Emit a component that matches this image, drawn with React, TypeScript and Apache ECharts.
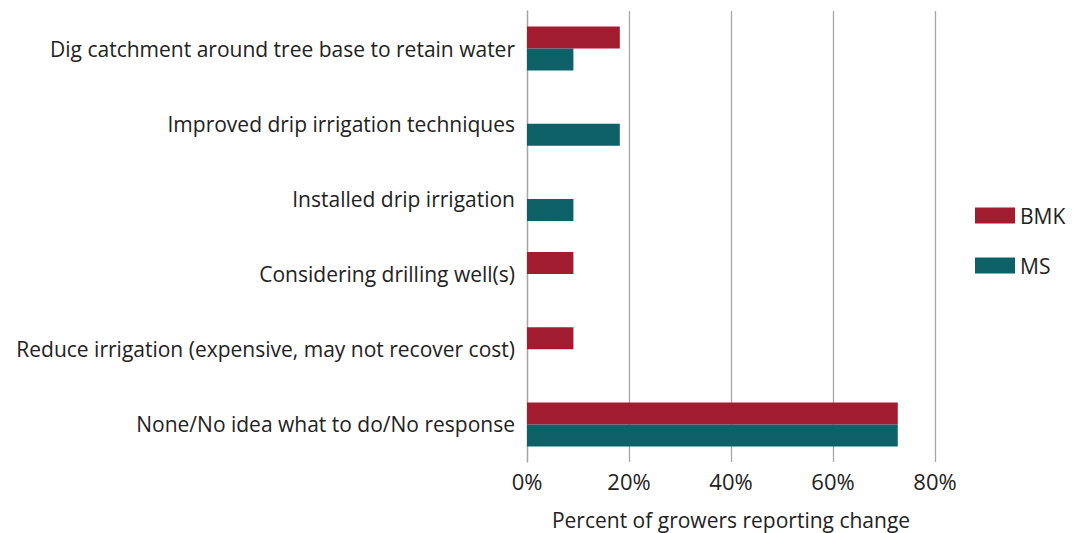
import React, { useEffect, useRef } from "react";
import * as echarts from "echarts";

const categories = [
  "Dig catchment around tree base to retain water",
  "Improved drip irrigation techniques",
  "Installed drip irrigation",
  "Considering drilling well(s)",
  "Reduce irrigation (expensive, may not recover cost)",
  "None/No idea what to do/No response",
];
const bmk = [18.2, 0, 0, 9.1, 9.1, 72.7];
const ms = [9.1, 18.2, 9.1, 0, 0, 72.7];
const xTicks = [0, 20, 40, 60, 80];

const FONT = "'Open Sans', Lato, sans-serif";

export default function App() {
  const ref = useRef<HTMLDivElement>(null);
  useEffect(() => {
    const chart = echarts.init(ref.current!, null, { renderer: "svg" });
    chart.setOption({
      animation: false,
      textStyle: { fontFamily: FONT },
      legend: {
        orient: "vertical",
        left: 970,
        top: 200,
        itemWidth: 40,
        itemHeight: 16,
        itemGap: 29,
        itemTextGap: 5,
        icon: "rect",
        textStyle: { fontSize: 21, color: "#222", fontFamily: FONT },
        data: ["BMK", "MS"],
      },
      grid: { left: 527, top: 11, width: 408, height: 451, outerBoundsMode: "none", containLabel: false },
      xAxis: {
        type: "value",
        min: xTicks[0],
        max: xTicks[xTicks.length - 1],
        interval: 20,
        axisLine: { show: false },
        axisTick: { show: false },
        splitLine: { show: true, lineStyle: { color: "#a6a6a6", width: 1.3 } },
        axisLabel: {
          formatter: (v: number) => `${v}%`,
          fontSize: 22,
          color: "#222",
          margin: 8,
          fontFamily: FONT,
        },
        name: "Percent of growers reporting change",
        nameLocation: "middle",
        nameGap: 47,
        nameTextStyle: { fontSize: 21, color: "#222", fontFamily: FONT },
      },
      yAxis: {
        type: "category",
        data: categories,
        inverse: true,
        axisLine: { show: true, lineStyle: { color: "#a6a6a6", width: 1.3 } },
        axisTick: { show: false },
        axisLabel: { fontSize: 21, color: "#222", margin: 12, fontFamily: FONT },
      },
      series: [
        {
          name: "BMK",
          type: "bar",
          data: bmk,
          barWidth: 22,
          barGap: "0%",
          itemStyle: { color: "#a21c30" },
        },
        {
          name: "MS",
          type: "bar",
          data: ms,
          barWidth: 22,
          barGap: "0%",
          itemStyle: { color: "#0f6168" },
        },
      ],
    });
    return () => chart.dispose();
  }, []);
  return (
    <div
      ref={ref}
      style={{ position: "absolute", left: 0, top: 0, width: 1079, height: 533 }}
    />
  );
}
